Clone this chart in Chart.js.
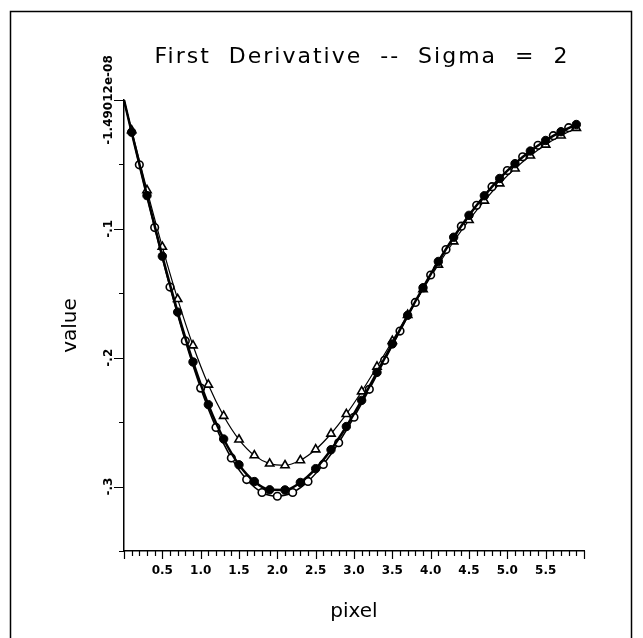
<!DOCTYPE html>
<html lang="en">
<head>
<meta charset="UTF-8">
<title>First Derivative -- Sigma = 2</title>
<script src="https://cdn.jsdelivr.net/npm/chart.js"></script>
<style>
  body { margin: 0; background: #fff; }
  .chart-container { position: relative; width: 643px; height: 638px; }
</style>
</head>
<body>
<div class="chart-container">
  <canvas id="derivChart" width="643" height="638"></canvas>
</div>
<script>
// filled markers (odd tenths), with the thick line from the origin
var xStars = [0, 0.1, 0.3, 0.5, 0.7, 0.9, 1.1, 1.3, 1.5, 1.7, 1.9, 2.1, 2.3, 2.5, 2.7, 2.9,
              3.1, 3.3, 3.5, 3.7, 3.9, 4.1, 4.3, 4.5, 4.7, 4.9, 5.1, 5.3, 5.5, 5.7, 5.9];
var yStars = [0, -0.0250, -0.0742, -0.1212, -0.1646, -0.2033, -0.2364, -0.2631, -0.2831, -0.2961, -0.3025,
              -0.3026, -0.2968, -0.2861, -0.2714, -0.2534, -0.2331, -0.2114, -0.1893, -0.1671, -0.1457,
              -0.1253, -0.1065, -0.0895, -0.0743, -0.0609, -0.0494, -0.0396, -0.0314, -0.0246, -0.0190];

// open circles (even tenths)
var xCircles = [0, 0.2, 0.4, 0.6, 0.8, 1.0, 1.2, 1.4, 1.6, 1.8, 2.0, 2.2, 2.4, 2.6, 2.8, 3.0,
                3.2, 3.4, 3.6, 3.8, 4.0, 4.2, 4.4, 4.6, 4.8, 5.0, 5.2, 5.4, 5.6, 5.8];
var yCircles = [0, -0.0503, -0.0990, -0.1452, -0.1870, -0.2236, -0.2541, -0.2778, -0.2946, -0.3046, -0.3075,
                -0.3046, -0.2960, -0.2828, -0.2660, -0.2462, -0.2245, -0.2020, -0.1793, -0.1571, -0.1358,
                -0.1161, -0.0979, -0.0817, -0.0673, -0.0548, -0.0441, -0.0352, -0.0277, -0.0215];

// open triangles, thin line (shallower curve)
var xTriangles = [0, 0.1, 0.3, 0.5, 0.7, 0.9, 1.1, 1.3, 1.5, 1.7, 1.9, 2.1, 2.3, 2.5, 2.7, 2.9,
                  3.1, 3.3, 3.5, 3.7, 3.9, 4.1, 4.3, 4.5, 4.7, 4.9, 5.1, 5.3, 5.5, 5.7, 5.9];
var yTriangles = [0, -0.0236, -0.0700, -0.1140, -0.1545, -0.1905, -0.2210, -0.2452, -0.2635, -0.2758, -0.2822,
                  -0.2835, -0.2796, -0.2712, -0.2590, -0.2438, -0.2262, -0.2070, -0.1870, -0.1668, -0.1470,
                  -0.1278, -0.1098, -0.0932, -0.0782, -0.0648, -0.0532, -0.0432, -0.0347, -0.0276, -0.0217];

// tick labels
var yTickValues = [0, -0.1, -0.2, -0.3];
var yTickLabels = ['-1.49012e-08', '-.1', '-.2', '-.3'];
var chartTitle = 'First  Derivative  --  Sigma  =  2';

function toPoints(xs, ys) {
    return xs.map(function(x, i) { return { x: x, y: ys[i] }; });
}

// no marker at the origin
function markerSize(size) {
    return function(ctx) { return ctx.dataIndex === 0 ? 0 : size; };
}

// frame, title, minor/major ticks and rotated y labels
var axisExtras = {
    id: 'axisExtras',
    beforeDraw: function(chart) {
        var ctx = chart.ctx;
        ctx.save();
        ctx.fillStyle = '#fff';
        ctx.fillRect(0, 0, chart.width, chart.height);
        ctx.strokeStyle = '#000';
        ctx.lineWidth = 1.5;
        ctx.strokeRect(10.5, 11.5, 621, 640);
        ctx.restore();
    },
    afterDraw: function(chart) {
        var ctx = chart.ctx;
        var xs = chart.scales.x, ys = chart.scales.y;
        var axisY = ys.getPixelForValue(ys.min);
        var axisX = xs.getPixelForValue(xs.min);
        ctx.save();

        // title, spaced out like the plotter font
        ctx.fillStyle = '#000';
        ctx.font = '22px "DejaVu Sans"';
        ctx.letterSpacing = '2px';
        ctx.textAlign = 'center';
        ctx.textBaseline = 'alphabetic';
        ctx.fillText(chartTitle, 362, 63);
        ctx.letterSpacing = '0px';

        ctx.strokeStyle = '#000';
        ctx.lineWidth = 1.2;
        ctx.beginPath();
        for (var i = 0; i <= 60; i++) {
            var px = Math.round(xs.getPixelForValue(i / 10)) + 0.5;
            var len = (i % 5 === 0) ? 8 : 5;
            ctx.moveTo(px, axisY);
            ctx.lineTo(px, axisY + len);
        }
        for (var j = 0; j <= 7; j++) {
            var py = Math.round(ys.getPixelForValue(-j * 0.05)) + 0.5;
            var l = (j % 2 === 0) ? 10 : 5;
            ctx.moveTo(axisX, py);
            ctx.lineTo(axisX - l, py);
        }
        ctx.stroke();

        ctx.font = 'bold 12px "DejaVu Sans"';
        ctx.textAlign = 'center';
        ctx.textBaseline = 'middle';
        yTickValues.forEach(function(v, k) {
            ctx.save();
            ctx.translate(axisX - 15, ys.getPixelForValue(v));
            ctx.rotate(-Math.PI / 2);
            ctx.fillText(yTickLabels[k], 0, 0);
            ctx.restore();
        });
        ctx.restore();
    }
};

var ctx = document.getElementById('derivChart').getContext('2d');

var derivChart = new Chart(ctx, {
    type: 'scatter',
    data: {
        datasets: [
            {
                label: 'filled',
                data: toPoints(xStars, yStars),
                showLine: true,
                cubicInterpolationMode: 'monotone',
                borderColor: '#000',
                borderWidth: 2.5,
                backgroundColor: '#000',
                pointBackgroundColor: '#000',
                pointBorderColor: '#000',
                pointBorderWidth: 1,
                pointStyle: 'circle',
                pointRadius: markerSize(4.2)
            },
            {
                label: 'circles',
                data: toPoints(xCircles, yCircles),
                showLine: true,
                cubicInterpolationMode: 'monotone',
                borderColor: '#000',
                borderWidth: 1.5,
                pointBackgroundColor: '#fff',
                pointBorderColor: '#000',
                pointBorderWidth: 1.6,
                pointStyle: 'circle',
                pointRadius: markerSize(3.8)
            },
            {
                label: 'triangles',
                data: toPoints(xTriangles, yTriangles),
                showLine: true,
                cubicInterpolationMode: 'monotone',
                borderColor: '#000',
                borderWidth: 1.2,
                pointBackgroundColor: '#fff',
                pointBorderColor: '#000',
                pointBorderWidth: 1.6,
                pointStyle: 'triangle',
                pointRadius: markerSize(4.8)
            }
        ]
    },
    options: {
        responsive: false,
        animation: false,
        events: [],
        layout: { padding: { left: 40, right: 59, top: 100, bottom: 10 } },
        plugins: {
            legend: { display: false },
            tooltip: { enabled: false },
            title: { display: false }
        },
        scales: {
            x: {
                type: 'linear',
                min: 0,
                max: 6,
                afterFit: function(s) { s.height = 77; },
                border: { display: true, color: '#000', width: 1.5 },
                grid: { display: false, drawTicks: false },
                ticks: {
                    stepSize: 0.5,
                    padding: 13,
                    color: '#000',
                    font: { family: 'DejaVu Sans', size: 12, weight: 'bold' },
                    maxRotation: 0,
                    callback: function(v) {
                        if (v <= 0 || v >= 6) return '';
                        return v.toFixed(1);
                    }
                },
                title: {
                    display: true,
                    text: 'pixel',
                    color: '#000',
                    font: { family: 'DejaVu Sans', size: 20, lineHeight: 1.2 },
                    padding: { top: 0, bottom: 4 }
                }
            },
            y: {
                type: 'linear',
                min: -0.35,
                max: 0,
                afterFit: function(s) { s.width = 84; },
                border: { display: true, color: '#000', width: 1.5 },
                grid: { display: false, drawTicks: false },
                ticks: { display: false },
                title: {
                    display: true,
                    text: 'value',
                    color: '#000',
                    font: { family: 'DejaVu Sans', size: 20, lineHeight: 1.2 },
                    padding: { top: 19, bottom: 0 }
                }
            }
        }
    },
    plugins: [axisExtras]
});
</script>
</body>
</html>
